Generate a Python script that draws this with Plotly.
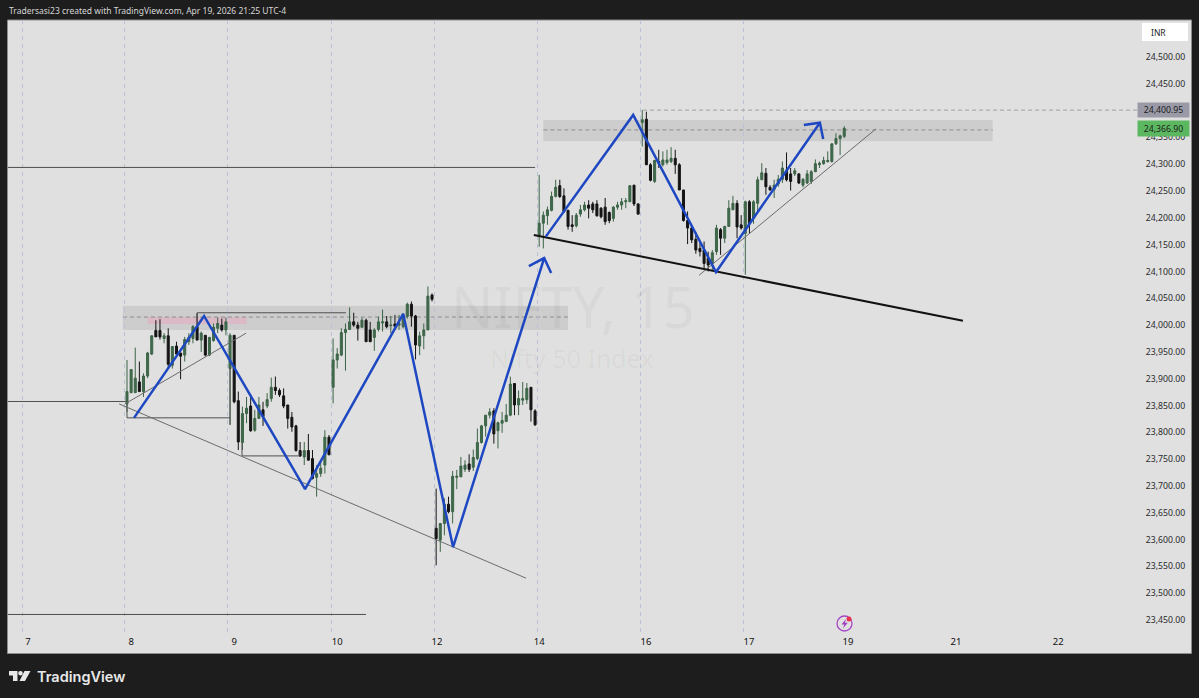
import plotly.graph_objects as go

# ---- candle data (one row per 15-minute bar): open, high, low, close
candles = [
 (23853,23935,23838,23876),(23874,23917,23873,23917),(23874,23958,23874,23901),(23894,23932,23876,23876),(23876,23910,23866,23905),
 (23905,23950,23901,23948),(23946,23981,23944,23980),(23990,24009,23978,23978),(23990,24011,23973,23978),(23975,23985,23966,23980),
 (23980,23994,23919,23927),(23925,23961,23919,23960),(23961,23969,23944,23946),(23948,23948,23899,23942),(23944,23978,23932,23973),
 (23969,23985,23963,23977),(23975,24000,23966,23997),(23997,24022,23972,23972),(23972,23988,23950,23985),(23981,23981,23942,23944),
 (23944,23978,23942,23977),(23971,24003,23969,23996),(23994,24014,23985,24003),(24000,24012,23988,23991),(23991,24014,23981,24006),
 (23919,23985,23814,23981),(23981,23981,23854,23857),(23859,23876,23767,23782),(23781,23848,23767,23835),(23835,23866,23817,23845),
 (23849,23866,23801,23803),(23804,23842,23801,23826),(23826,23866,23826,23851),(23842,23857,23812,23829),(23849,23873,23845,23861),
 (23863,23902,23857,23884),(23884,23904,23870,23878),(23878,23882,23866,23870),(23868,23882,23845,23849),(23851,23851,23807,23826),
 (23828,23838,23801,23810),(23812,23814,23764,23766),(23766,23782,23754,23756),(23754,23782,23739,23766),(23766,23797,23748,23748),
 (23751,23767,23712,23714),(23716,23739,23680,23723),(23723,23748,23717,23733),(23739,23804,23723,23791),(23791,23795,23758,23758),
 (23884,23975,23854,23935),(23935,23957,23919,23946),(23944,23994,23942,23986),(23986,24003,23915,23992),(23992,24033,23991,24006),
 (24006,24023,23997,24000),(24000,24006,23971,23994),(23996,24014,23996,24009),(24009,24012,23969,23969),(23991,24006,23969,23969),
 (23977,23994,23952,23991),(23992,24016,23988,24006),(24004,24029,23988,24006),(24006,24017,23994,23997),(23999,24017,23985,24000),
 (24002,24019,23997,23998),(24000,24019,23991,24003),(23997,24022,23994,24019),(24016,24042,24012,24039),(24039,24044,23997,24017),
 (24017,24019,23936,23963),(23961,23988,23944,23980),(23980,24003,23955,23991),(23991,24072,23991,24054),(24056,24059,24044,24048),
 (23621,23695,23552,23602),(23599,23631,23577,23630),(23630,23677,23608,23666),(23666,23680,23649,23652),(23652,23728,23630,23718),
 (23716,23730,23694,23718),(23717,23754,23717,23737),(23731,23748,23726,23739),(23741,23759,23726,23731),(23735,23768,23728,23753),
 (23751,23807,23748,23781),(23781,23814,23779,23812),(23812,23832,23792,23832),(23832,23845,23826,23838),(23840,23845,23779,23797),
 (23803,23820,23770,23818),(23817,23838,23799,23822),(23820,23853,23820,23832),(23832,23904,23830,23890),(23891,23892,23832,23851),
 (23851,23878,23832,23863),(23860,23894,23851,23863),(23861,23892,23853,23882),(23884,23884,23820,23842),(23840,23843,23812,23814),
 (24168,24280,24146,24190),(24190,24212,24143,24205),(24204,24221,24187,24215),(24214,24249,24212,24240),(24240,24271,24238,24257),
 (24260,24271,24237,24240),(24241,24255,24209,24212),(24214,24215,24178,24184),(24187,24205,24174,24184),(24185,24209,24182,24205),
 (24207,24224,24202,24215),(24215,24230,24212,24224),(24224,24233,24199,24218),(24226,24230,24209,24215),(24226,24233,24202,24204),
 (24218,24220,24199,24202),(24220,24237,24187,24193),(24210,24212,24190,24195),(24199,24222,24193,24220),(24220,24230,24215,24224),
 (24224,24237,24215,24230),(24230,24237,24218,24232),(24230,24261,24230,24260),(24261,24261,24222,24226),(24226,24227,24206,24207),
 (24378,24401,24333,24383),(24384,24398,24299,24299),(24299,24302,24268,24270),(24268,24308,24265,24307),(24305,24327,24293,24302),
 (24299,24324,24296,24308),(24303,24327,24299,24308),(24305,24332,24302,24311),(24311,24327,24282,24299),(24299,24302,24252,24252),
 (24252,24252,24193,24195),(24195,24212,24151,24181),(24181,24184,24153,24159),(24160,24174,24133,24140),(24143,24153,24128,24137),
 (24140,24156,24106,24115),(24125,24137,24100,24112),(24115,24140,24103,24135),(24137,24187,24131,24181),(24178,24181,24131,24162),
 (24162,24185,24153,24184),(24184,24233,24183,24218),(24215,24241,24215,24227),(24227,24233,24162,24183),(24187,24205,24178,24181),
 (24171,24232,24094,24230),(24230,24233,24171,24189),(24199,24233,24189,24230),(24227,24277,24209,24271),(24271,24302,24271,24284),
 (24283,24293,24243,24258),(24257,24261,24251,24252),(24253,24271,24237,24261),(24263,24280,24258,24272),(24272,24305,24265,24293),
 (24289,24322,24268,24271),(24282,24293,24251,24268),(24282,24293,24278,24288),(24282,24283,24263,24265),(24261,24274,24257,24272),
 (24265,24289,24263,24282),(24268,24289,24263,24286),(24286,24309,24286,24301),(24299,24305,24293,24302),(24301,24314,24299,24307),
 (24305,24324,24303,24307),(24305,24339,24303,24338),(24338,24358,24336,24348),(24348,24355,24317,24353),(24352,24371,24349,24366.9),
]
opens = [c[0] for c in candles]
highs = [c[1] for c in candles]
lows = [c[2] for c in candles]
closes = [c[3] for c in candles]
bars = list(range(len(candles)))

# ---- time axis: bar index of the session lines, tick labels
session_lines = [-25.4, -0.5, 24.5, 49.5, 74.5, 99.5, 124.5, 149.5]
tick_bars = [-24, 1, 26, 51, 75.2, 100, 125.9, 150.9, 174.9, 201.1, 225.9]
tick_text = ["7", "8", "9", "10", "12", "14", "16", "17", "19", "21", "22"]
# 24,400.00 sits fully behind the 24,400.95 price tag in the reference
price_ticks = [p for p in range(23450, 24501, 50) if p != 24400]

# ---- drawings (bar index, price)
zig_a_x = [1.7, 18.7, 43.2, 67, 79.1, 101.2]
zig_a_y = [23827, 24017, 23694, 24021, 23586, 24125]
head_a_x = [97.5, 101.2, 102.9]
head_a_y = [24110, 24125, 24097]
zig_b_x = [101.6, 122.8, 142.9, 168.1]
zig_b_y = [24165, 24392, 24099, 24377.5]
head_b_x = [164.2, 168.1, 168.9]
head_b_y = [24373, 24377.5, 24347]
trend_black_x = [98.7, 202.8]
trend_black_y = [24168, 24008]
thin_lines = [
    ([-1.9, 96.8], [23853, 23528]),
    ([-0.5, 28.9], [23853, 23985]),
    ([138.8, 181.7], [24093, 24366]),
]
level_lines = [
    ([-28.87, 99], [24294, 24294]),
    ([-28.87, -0.3], [23857.5, 23857.5]),
    ([-28.87, 58], [23460.3, 23460.3]),
    ([0, 0, 25], [23857.5, 23827, 23827]),
    ([25, 25], [23920, 23814]),
    ([27.9, 27.9, 42], [23780, 23756, 23756]),
    ([17, 17, 53.1], [23996, 24023, 24023]),
]
zones = [(-1, 107, 23991, 24036, 24015), (101, 210, 24343, 24382.5, 24364)]
pink_zone = (5, 29, 24002, 24015)
high_price = 24400.95
last_price = 24366.90

X_RANGE = [-28.87, 245.27]
Y_RANGE = [23427.6, 24569]
L, R, T, B = 8, 1138, 20, 632
W, H = 1199, 698
DARK = "#1d1d1d"
PANEL = "#e0e0e0"
BLUE = "#1e48c2"
FONT = "Noto Sans"


def pxx(p):
    return (p - L) / (R - L)


def pxy(p):
    return (B - p) / (B - T)


def path(points, close=True):
    s = "M " + " L ".join(f"{pxx(a):.5f},{pxy(b):.5f}" for a, b in points)
    return s + (" Z" if close else "")


fig = go.Figure()


def add_line(x, y, color, width, dash="solid"):
    fig.add_trace(go.Scatter(x=x, y=y, mode="lines", hoverinfo="skip", showlegend=False,
                             line=dict(color=color, width=width, dash=dash)))


fig.add_trace(go.Candlestick(
    x=bars, open=opens, high=highs, low=lows, close=closes, showlegend=False, hoverinfo="skip",
    whiskerwidth=0,
    increasing=dict(line=dict(color="#3c6447", width=1), fillcolor="#3f6b4c"),
    decreasing=dict(line=dict(color="#141414", width=1), fillcolor="#141414"),
))

for x, y in level_lines:
    add_line(x, y, "#4f4f4f", 1)
for x, y in thin_lines:
    add_line(x, y, "#6b6b6b", 1)
add_line(trend_black_x, trend_black_y, "#111111", 2)
add_line(zig_a_x, zig_a_y, BLUE, 2.5)
add_line(head_a_x, head_a_y, BLUE, 2.5)
add_line(zig_b_x, zig_b_y, BLUE, 2.5)
add_line(head_b_x, head_b_y, BLUE, 2.5)
add_line([125.2, X_RANGE[1]], [high_price, high_price], "#a0a0a0", 1, "4px,3px")

shapes = [
    dict(type="rect", xref="paper", yref="paper", x0=pxx(7.5), x1=pxx(1191.5), y0=pxy(653.5), y1=pxy(20),
         fillcolor=PANEL, line=dict(color="#8c8c8c", width=1), layer="below"),
]
for x0, x1, y0, y1, mid in zones:
    shapes.append(dict(type="rect", xref="x", yref="y", x0=x0, x1=x1, y0=y0, y1=y1,
                       fillcolor="#cdcdcd", line=dict(width=0), layer="below"))
shapes.append(dict(type="rect", xref="x", yref="y", x0=pink_zone[0], x1=pink_zone[1], y0=pink_zone[2], y1=pink_zone[3],
                   fillcolor="#dcb9c6", line=dict(width=0), layer="below"))
for x0, x1, y0, y1, mid in zones:
    shapes.append(dict(type="line", xref="x", yref="y", x0=x0, x1=x1, y0=mid, y1=mid,
                       line=dict(color="#8f8f8f", width=1, dash="4px,3px"), layer="below"))

# INR box
shapes.append(dict(type="rect", xref="paper", yref="paper", x0=pxx(1142), x1=pxx(1188), y0=pxy(41), y1=pxy(23),
                   fillcolor="#ffffff", line=dict(width=0)))
# TradingView logo
shapes += [
    dict(type="path", xref="paper", yref="paper", fillcolor="#e8e8e8", line=dict(width=0),
         path=path([(9, 671), (17.5, 671), (17.5, 681), (13, 681), (13, 675.5), (9, 675.5)])),
    dict(type="circle", xref="paper", yref="paper", fillcolor="#e8e8e8", line=dict(width=0),
         x0=pxx(18.2), x1=pxx(22.8), y0=pxy(675.5), y1=pxy(671)),
    dict(type="path", xref="paper", yref="paper", fillcolor="#e8e8e8", line=dict(width=0),
         path=path([(24.5, 671), (30.5, 671), (25, 681), (19.5, 681)])),
]
# news icon
shapes += [
    dict(type="circle", xref="paper", yref="paper", fillcolor="rgba(0,0,0,0)",
         line=dict(color="#a647c6", width=1.3),
         x0=pxx(837), x1=pxx(852), y0=pxy(631), y1=pxy(616)),
    dict(type="path", xref="paper", yref="paper", fillcolor="#a03cc4", line=dict(width=0),
         path=path([(846, 619), (841.5, 624.5), (844.3, 624.5), (843, 628.5), (847.8, 622.8), (845, 622.8)])),
    dict(type="circle", xref="paper", yref="paper", fillcolor="#e8304f", line=dict(width=0),
         x0=pxx(846.5), x1=pxx(851.5), y0=pxy(621.5), y1=pxy(616.5)),
]

annotations = [
    dict(text="NIFTY, 15", xref="paper", yref="paper", x=pxx(573), y=pxy(306), xanchor="center", yanchor="middle",
         showarrow=False, font=dict(family=FONT, size=56, color="rgba(0,0,0,0.035)")),
    dict(text="Nifty 50 Index", xref="paper", yref="paper", x=pxx(572), y=pxy(358), xanchor="center", yanchor="middle",
         showarrow=False, font=dict(family=FONT, size=25, color="rgba(0,0,0,0.045)")),
    dict(text="Tradersasi23 created with TradingView.com, Apr 19, 2026 21:25 UTC-4", xref="paper", yref="paper",
         x=pxx(7), y=pxy(10.5), xanchor="left", yanchor="middle", showarrow=False,
         font=dict(family=FONT, size=8.5, color="#d6d6d6")),
    dict(text="TradingView", xref="paper", yref="paper", x=pxx(35), y=pxy(676), xanchor="left", yanchor="middle",
         showarrow=False, font=dict(family="Inter", size=14.5, weight=600, color="#e8e8e8")),
    dict(text="INR", xref="paper", yref="paper", x=pxx(1149), y=pxy(32.5), xanchor="left", yanchor="middle",
         showarrow=False, font=dict(family=FONT, size=8.5, color="#222222")),
    dict(text=f"{high_price:,.2f}", xref="paper", yref="y", x=pxx(1163.5), y=high_price, xanchor="center",
         yanchor="middle", showarrow=False, width=49, height=12, bgcolor="#9a9aa6",
         font=dict(family=FONT, size=8.7, color="#1c1c1c")),
    dict(text=f"{last_price:,.2f}", xref="paper", yref="y", x=pxx(1163.5), y=last_price, xanchor="center",
         yanchor="middle", showarrow=False, width=49, height=13, bgcolor="#5cb860",
         font=dict(family=FONT, size=8.7, color="#1c1c1c")),
]

fig.update_layout(
    width=W, height=H, margin=dict(l=L, r=W - R, t=T, b=H - B, pad=0),
    paper_bgcolor=DARK, plot_bgcolor="rgba(0,0,0,0)", showlegend=False, hovermode=False,
    shapes=shapes, annotations=annotations,
    xaxis=dict(range=X_RANGE, rangeslider=dict(visible=False), showgrid=False, zeroline=False, showline=False,
               tickmode="array", tickvals=tick_bars, ticktext=tick_text, ticks="outside", ticklen=1,
               tickcolor="rgba(0,0,0,0)", tickfont=dict(family=FONT, size=9.5, color="#111111"),
               minor=dict(tickmode="array", tickvals=session_lines, showgrid=True, gridcolor="#b9c2d0",
                          griddash="4px,4px", gridwidth=1, ticks="")),
    yaxis=dict(range=Y_RANGE, side="right", showgrid=False, zeroline=False, showline=False,
               tickmode="array", tickvals=price_ticks, tickformat=",.2f", ticks="outside", ticklen=5,
               tickcolor="rgba(0,0,0,0)", tickfont=dict(family=FONT, size=8.7, color="#2a2a2a")),
)

fig.write_html("out.html", config=dict(displayModeBar=False),
               post_script="document.body.style.margin='0';document.body.style.overflow='hidden';")
